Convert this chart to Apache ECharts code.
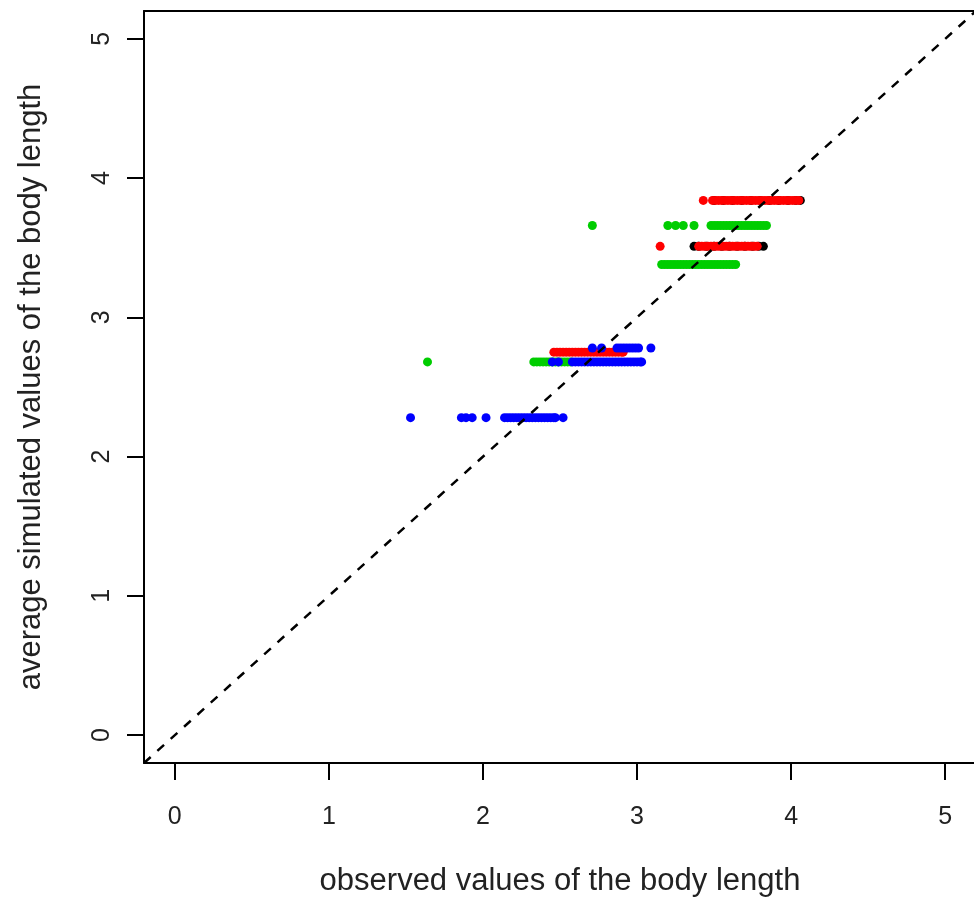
<!DOCTYPE html>
<html>
<head>
<meta charset="utf-8">
<script src="https://cdn.jsdelivr.net/npm/echarts@6/dist/echarts.min.js"></script>
<style>
html,body{margin:0;padding:0;background:#fff;}
#c{width:974px;height:899px;}
</style>
</head>
<body>
<div id="c"></div>
<script>
// ---- data ----
const tickValues = [0, 1, 2, 3, 4, 5];
const axisMin = -0.2;
const axisMax = 5.2;

const blackX = [3.50, 3.56, 3.62, 3.68, 3.74, 3.80, 3.86, 3.92, 3.98, 4.03, 4.06,
                3.37, 3.40, 3.45, 3.50, 3.55, 3.60, 3.65, 3.70, 3.75, 3.79, 3.82];
const blackY = [3.84, 3.84, 3.84, 3.84, 3.84, 3.84, 3.84, 3.84, 3.84, 3.84, 3.84,
                3.51, 3.51, 3.51, 3.51, 3.51, 3.51, 3.51, 3.51, 3.51, 3.51, 3.51];

const redX = [3.43, 3.49, 3.51, 3.53, 3.55, 3.57, 3.59, 3.61, 3.63, 3.65, 3.67, 3.69, 3.71, 3.73, 3.75, 3.77, 3.79, 3.81, 3.83, 3.85, 3.87, 3.89, 3.91, 3.93, 3.95, 3.97, 3.99, 4.01, 4.03, 4.05,
              3.15, 3.40, 3.42, 3.44, 3.46, 3.48, 3.50, 3.52, 3.54, 3.56, 3.58, 3.60, 3.62, 3.64, 3.66, 3.68, 3.70, 3.72, 3.74, 3.76, 3.78,
              2.46, 2.48, 2.50, 2.52, 2.54, 2.56, 2.58, 2.60, 2.62, 2.64, 2.66, 2.68, 2.70, 2.72, 2.74, 2.76, 2.78, 2.80, 2.82, 2.84, 2.86, 2.88, 2.90, 2.91];
const redY = [3.84, 3.84, 3.84, 3.84, 3.84, 3.84, 3.84, 3.84, 3.84, 3.84, 3.84, 3.84, 3.84, 3.84, 3.84, 3.84, 3.84, 3.84, 3.84, 3.84, 3.84, 3.84, 3.84, 3.84, 3.84, 3.84, 3.84, 3.84, 3.84, 3.84,
              3.51, 3.51, 3.51, 3.51, 3.51, 3.51, 3.51, 3.51, 3.51, 3.51, 3.51, 3.51, 3.51, 3.51, 3.51, 3.51, 3.51, 3.51, 3.51, 3.51, 3.51,
              2.75, 2.75, 2.75, 2.75, 2.75, 2.75, 2.75, 2.75, 2.75, 2.75, 2.75, 2.75, 2.75, 2.75, 2.75, 2.75, 2.75, 2.75, 2.75, 2.75, 2.75, 2.75, 2.75, 2.75];

const greenX = [2.71, 3.20, 3.25, 3.30, 3.37, 3.48, 3.50, 3.52, 3.54, 3.56, 3.58, 3.60, 3.62, 3.64, 3.66, 3.68, 3.70, 3.72, 3.74, 3.76, 3.78, 3.80, 3.82, 3.84,
                3.16, 3.18, 3.20, 3.22, 3.24, 3.26, 3.28, 3.30, 3.32, 3.34, 3.36, 3.38, 3.40, 3.42, 3.44, 3.46, 3.48, 3.50, 3.52, 3.54, 3.56, 3.58, 3.60, 3.62, 3.64,
                1.64, 2.33, 2.35, 2.37, 2.39, 2.41, 2.43, 2.45, 2.47, 2.49, 2.51, 2.53, 2.55, 2.57];
const greenY = [3.66, 3.66, 3.66, 3.66, 3.66, 3.66, 3.66, 3.66, 3.66, 3.66, 3.66, 3.66, 3.66, 3.66, 3.66, 3.66, 3.66, 3.66, 3.66, 3.66, 3.66, 3.66, 3.66, 3.66,
                3.38, 3.38, 3.38, 3.38, 3.38, 3.38, 3.38, 3.38, 3.38, 3.38, 3.38, 3.38, 3.38, 3.38, 3.38, 3.38, 3.38, 3.38, 3.38, 3.38, 3.38, 3.38, 3.38, 3.38, 3.38,
                2.68, 2.68, 2.68, 2.68, 2.68, 2.68, 2.68, 2.68, 2.68, 2.68, 2.68, 2.68, 2.68, 2.68];

const blueX = [2.71, 2.77, 2.87, 2.89, 2.91, 2.93, 2.95, 2.97, 2.99, 3.01, 3.09,
               2.45, 2.49, 2.58, 2.60, 2.62, 2.64, 2.66, 2.68, 2.70, 2.72, 2.74, 2.76, 2.78, 2.80, 2.82, 2.84, 2.86, 2.88, 2.90, 2.92, 2.94, 2.96, 2.98, 3.00, 3.02, 3.03,
               1.53, 1.86, 1.89, 1.93, 2.02, 2.14, 2.16, 2.18, 2.20, 2.22, 2.24, 2.26, 2.28, 2.30, 2.32, 2.34, 2.36, 2.38, 2.40, 2.42, 2.44, 2.46, 2.47, 2.52];
const blueY = [2.78, 2.78, 2.78, 2.78, 2.78, 2.78, 2.78, 2.78, 2.78, 2.78, 2.78,
               2.68, 2.68, 2.68, 2.68, 2.68, 2.68, 2.68, 2.68, 2.68, 2.68, 2.68, 2.68, 2.68, 2.68, 2.68, 2.68, 2.68, 2.68, 2.68, 2.68, 2.68, 2.68, 2.68, 2.68, 2.68, 2.68,
               2.28, 2.28, 2.28, 2.28, 2.28, 2.28, 2.28, 2.28, 2.28, 2.28, 2.28, 2.28, 2.28, 2.28, 2.28, 2.28, 2.28, 2.28, 2.28, 2.28, 2.28, 2.28, 2.28, 2.28];

const diagonalX = [-0.2, 5.2];
const diagonalY = [-0.2, 5.2];

const xTitle = 'observed values of the body length';
const yTitle = 'average simulated values of the body length';

// ---- build ----
function pairs(xs, ys) { return xs.map((x, i) => [x, ys[i]]); }

const FONT = 'Liberation Sans, Arial, Helvetica, sans-serif';
const axisCommon = {
  type: 'value',
  min: axisMin,
  max: axisMax,
  nameLocation: 'middle',
  nameTextStyle: { fontFamily: FONT, fontSize: 31, color: '#222' },
  axisLine: { show: true, onZero: false, lineStyle: { color: '#000', width: 2 } },
  axisTick: { show: true, inside: false, length: 17, customValues: tickValues, lineStyle: { color: '#000', width: 2 } },
  axisLabel: { customValues: tickValues, fontFamily: FONT, fontSize: 25, color: '#222' },
  splitLine: { show: false }
};

const scatterStyle = (color) => ({
  type: 'scatter', symbol: 'circle', symbolSize: 9,
  itemStyle: { color: color, opacity: 1 }, silent: true, animation: false
});

const option = {
  animation: false,
  backgroundColor: '#fff',
  grid: {
    left: 144, top: 11, right: -2, bottom: 136,
    containLabel: false, outerBoundsMode: 'none', show: false
  },
  xAxis: [
    Object.assign({}, axisCommon, {
      name: xTitle, nameGap: 103,
      axisLabel: Object.assign({}, axisCommon.axisLabel, { margin: 42 })
    }),
    {
      type: 'value', position: 'top', min: axisMin, max: axisMax,
      axisLine: { show: true, onZero: false, lineStyle: { color: '#000', width: 2 } },
      axisTick: { show: false }, axisLabel: { show: false }, splitLine: { show: false }
    }
  ],
  yAxis: Object.assign({}, axisCommon, {
    name: yTitle, nameGap: 97,
    axisLabel: Object.assign({}, axisCommon.axisLabel, { margin: 42, rotate: 90, align: 'center', verticalAlign: 'middle' })
  }),
  series: [
    Object.assign(scatterStyle('#000000'), { data: pairs(blackX, blackY) }),
    Object.assign(scatterStyle('#ff0000'), { data: pairs(redX, redY) }),
    Object.assign(scatterStyle('#00cd00'), { data: pairs(greenX, greenY) }),
    Object.assign(scatterStyle('#0000ff'), { data: pairs(blueX, blueY) }),
    {
      type: 'line', data: pairs(diagonalX, diagonalY), symbol: 'none', silent: true,
      clip: true,
      lineStyle: { color: '#000', width: 2.5, type: [9, 9] }, z: 10
    }
  ]
};

const chart = echarts.init(document.getElementById('c'), null, { renderer: 'canvas' });
chart.setOption(option);
</script>
</body>
</html>
